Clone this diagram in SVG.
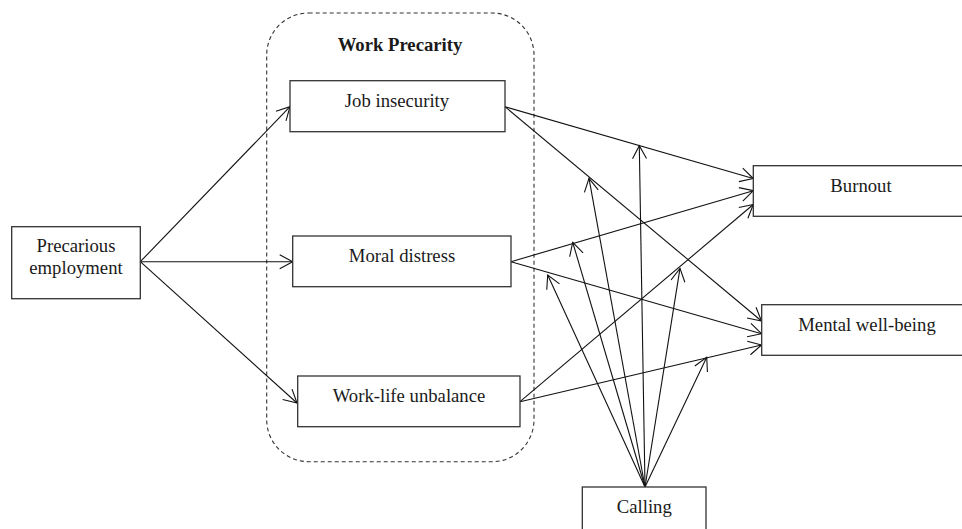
<svg xmlns="http://www.w3.org/2000/svg" width="962" height="529" viewBox="0 0 962 529">
<style>
.box{fill:#fff;stroke:#333;stroke-width:1.3}
.t{font-family:"Liberation Serif","Times New Roman",serif;font-size:18.7px;fill:#1a1a1a;text-anchor:middle}
.b{font-weight:bold}
.c{fill:none;stroke:#111;stroke-width:1.1;marker-end:url(#ah)}
.grp{fill:none;stroke:#333;stroke-width:1.1;stroke-dasharray:4,3}
</style>
<defs>
<marker id="ah" markerUnits="userSpaceOnUse" markerWidth="16" markerHeight="16" refX="13" refY="7" orient="auto" overflow="visible">
<path d="M0,0 L13,7 L0,14" fill="none" stroke="#111" stroke-width="1.1"/>
</marker>
</defs>
<rect width="962" height="529" fill="#fff"/>
<g id="work-precarity">
<rect class="grp" x="266.7" y="13" width="267.3" height="448.7" rx="42" ry="42"/>
<text class="t b" x="400" y="51">Work Precarity</text>
</g>
<g id="connectors">
<line class="c" x1="140.3" y1="261.7" x2="290" y2="106.7"/>
<line class="c" x1="140.3" y1="261.7" x2="292.7" y2="261.7"/>
<line class="c" x1="140.3" y1="261.7" x2="297" y2="403"/>
<line class="c" x1="505" y1="106.7" x2="753.3" y2="178.5"/>
<line class="c" x1="505" y1="106.7" x2="761.5" y2="321"/>
<line class="c" x1="511" y1="261.7" x2="753.3" y2="190.7"/>
<line class="c" x1="511" y1="261.7" x2="761.5" y2="333.7"/>
<line class="c" x1="520" y1="401.7" x2="753.3" y2="204.5"/>
<line class="c" x1="520" y1="401.7" x2="761.5" y2="345"/>
<line class="c" x1="645" y1="487" x2="639.3" y2="145.7"/>
<line class="c" x1="645" y1="487" x2="589" y2="178.3"/>
<line class="c" x1="645" y1="487" x2="572.7" y2="242.3"/>
<line class="c" x1="645" y1="487" x2="547.7" y2="275"/>
<line class="c" x1="645" y1="487" x2="680" y2="268.3"/>
<line class="c" x1="645" y1="487" x2="706.7" y2="357.3"/>
</g>
<g id="precarious-employment">
<rect class="box" x="11.7" y="226.7" width="128.6" height="72"/>
<text class="t" x="76" y="252.3">Precarious</text>
<text class="t" x="76" y="274">employment</text>
</g>
<g id="job-insecurity">
<rect class="box" x="290" y="80.7" width="215" height="51"/>
<text class="t" x="397" y="107">Job insecurity</text>
</g>
<g id="moral-distress">
<rect class="box" x="292.7" y="236" width="218.3" height="50.7"/>
<text class="t" x="402" y="261.7">Moral distress</text>
</g>
<g id="work-life-unbalance">
<rect class="box" x="297.7" y="376" width="222.3" height="50.7"/>
<text class="t" x="409" y="401.7">Work-life unbalance</text>
</g>
<g id="burnout">
<rect class="box" x="753.3" y="165.7" width="215" height="50.6"/>
<text class="t" x="861" y="191.7">Burnout</text>
</g>
<g id="mental-well-being">
<rect class="box" x="761.7" y="304.7" width="215" height="50.6"/>
<text class="t" x="867" y="330.7">Mental well-being</text>
</g>
<g id="calling">
<rect class="box" x="582.3" y="487" width="123.7" height="51"/>
<text class="t" x="644.3" y="512.7">Calling</text>
</g>
</svg>
